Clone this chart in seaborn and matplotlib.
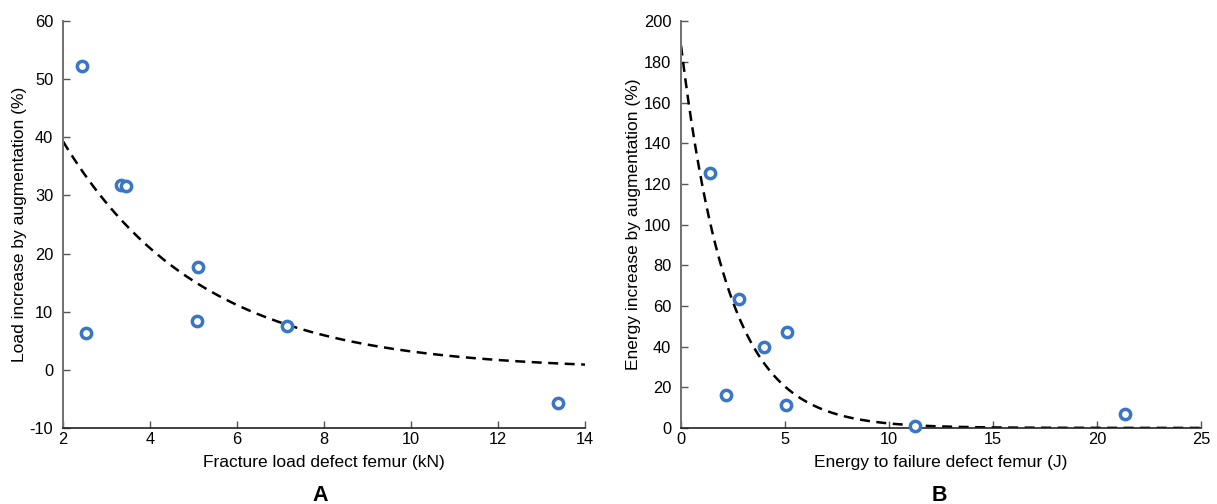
import numpy as np
import pandas as pd
import matplotlib
matplotlib.use("Agg")
import matplotlib.pyplot as plt
import seaborn as sns

# Panel A data
load_x = [2.43, 2.53, 3.33, 3.45, 5.10, 5.07, 7.16, 13.37]
load_y = [52.3, 6.3, 31.8, 31.7, 17.7, 8.4, 7.6, -5.8]
# Panel A exponential fit parameters (y = a * exp(-b x))
fit_a_amp, fit_a_rate = 73.8, 0.315

# Panel B data
energy_x = [1.39, 2.16, 2.79, 3.99, 5.11, 5.05, 11.27, 21.36]
energy_y = [125.5, 16.3, 63.5, 39.8, 47.4, 11.2, 0.8, 6.6]
# Panel B exponential fit parameters
fit_b_amp, fit_b_rate = 188.0, 0.445

sns.set_theme(style="white")
plt.rcParams['font.family'] = ['Liberation Sans', 'DejaVu Sans']
plt.rcParams['axes.unicode_minus'] = False
plt.rcParams['text.color'] = 'black'
plt.rcParams['axes.labelcolor'] = 'black'

fig = plt.figure(figsize=(12.17, 5.04), dpi=100)
axA = fig.add_axes([0.0518, 0.151, 0.4289, 0.807])
axB = fig.add_axes([0.5596, 0.151, 0.4272, 0.807])

blue = "#3a76c4"

def style(ax):
    for s in ["top", "right"]:
        ax.spines[s].set_visible(False)
    ax.spines["left"].set_color("#707070")
    ax.spines["left"].set_linewidth(1.4)
    ax.spines["bottom"].set_color("#222222")
    ax.spines["bottom"].set_linewidth(1.2)
    ax.tick_params(axis="both", which="major", bottom=True, left=True,
                   direction="in", length=5, width=1, color="#555555",
                   labelcolor="black", labelsize=11.8)
    ax.tick_params(axis="y", pad=7)
    ax.tick_params(axis="x", pad=3)
    ax.grid(False)

# Panel A
xa = np.linspace(2, 14, 200)
dfA_fit = pd.DataFrame({"x": xa, "y": fit_a_amp * np.exp(-fit_a_rate * xa)})
sns.lineplot(data=dfA_fit, x="x", y="y", ax=axA, color="black", lw=1.8)
axA.lines[-1].set_dashes([4, 2.6])
dfA = pd.DataFrame({"x": load_x, "y": load_y})
sns.scatterplot(data=dfA, x="x", y="y", ax=axA, s=55, facecolor="white",
                edgecolor=blue, linewidth=2.5, zorder=5)
axA.set_xlim(2, 14)
axA.set_ylim(-10, 60)
axA.set_xticks([2, 4, 6, 8, 10, 12, 14])
axA.set_yticks([-10, 0, 10, 20, 30, 40, 50, 60])
axA.set_xlabel("Fracture load defect femur (kN)", fontsize=12.5, labelpad=6)
axA.set_ylabel("Load increase by augmentation (%)", fontsize=12.5, labelpad=2)
style(axA)

# Panel B
xb = np.linspace(0, 25, 300)
dfB_fit = pd.DataFrame({"x": xb, "y": fit_b_amp * np.exp(-fit_b_rate * xb)})
sns.lineplot(data=dfB_fit, x="x", y="y", ax=axB, color="black", lw=1.8)
axB.lines[-1].set_dashes([4, 2.6])
dfB = pd.DataFrame({"x": energy_x, "y": energy_y})
sns.scatterplot(data=dfB, x="x", y="y", ax=axB, s=55, facecolor="white",
                edgecolor=blue, linewidth=2.5, zorder=5, clip_on=False)
axB.set_xlim(0, 25)
axB.set_ylim(0, 200)
axB.set_xticks([0, 5, 10, 15, 20, 25])
axB.set_yticks(list(range(0, 201, 20)))
axB.set_xlabel("Energy to failure defect femur (J)", fontsize=12.5, labelpad=6)
axB.set_ylabel("Energy increase by augmentation (%)", fontsize=12.5, labelpad=2)
style(axB)

fig.text(0.263, 0.006, "A", fontsize=15.5, fontweight="bold", ha="center", va="baseline")
fig.text(0.772, 0.006, "B", fontsize=15.5, fontweight="bold", ha="center", va="baseline")

fig.savefig("out.png", dpi=100)
